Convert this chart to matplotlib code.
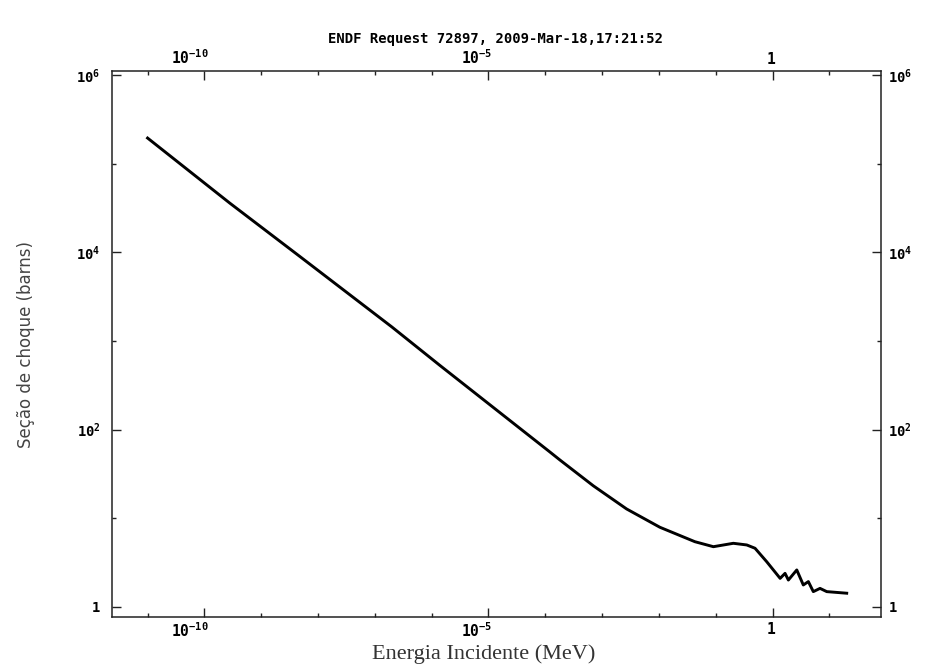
#!/usr/bin/env python3
import matplotlib
matplotlib.use('Agg')
import matplotlib.pyplot as plt
import matplotlib.ticker as mticker
import matplotlib.transforms as mtrans
import numpy as np

# values (energy in MeV, cross section in barns)
energy = [1.0e-11, 2.8e-10, 4.8e-9, 2.0e-7, 1.4e-6, 1.2e-4, 1.8e-4, 7.0e-4,
          2.7e-3, 1.04e-2, 4.3e-2, 9.1e-2, 0.204, 0.352, 0.492, 0.79, 1.36,
          1.66, 1.90, 2.67, 3.48, 4.27, 5.22, 6.85, 9.0, 20.2]
xsec = [1.96e5, 3.61e4, 9.0e3, 1.44e3, 530, 56.0, 45.5, 23.2,
        12.7, 7.89, 5.42, 4.76, 5.20, 4.98, 4.57, 3.22, 2.09,
        2.38, 2.00, 2.60, 1.76, 1.92, 1.48, 1.61, 1.48, 1.42]

x_major = [1e-10, 1e-5, 1.0]
x_major_labels = [r'$10^{-10}$', r'$10^{-5}$', r'$1$']
y_major = [1.0, 1e2, 1e4, 1e6]
y_major_labels = [r'$1$', r'$10^{2}$', r'$10^{4}$', r'$10^{6}$']

title = 'ENDF Request 72897, 2009-Mar-18,17:21:52'
xlabel = 'Energia Incidente (MeV)'
ylabel = 'Seção de choque (barns)'

plt.rcParams['mathtext.fontset'] = 'custom'
plt.rcParams['mathtext.rm'] = 'DejaVu Sans Mono:bold'
plt.rcParams['mathtext.bf'] = 'DejaVu Sans Mono:bold'
plt.rcParams['mathtext.it'] = 'DejaVu Sans Mono:bold'

fig = plt.figure(figsize=(9.25, 6.7), dpi=100)
ax = fig.add_axes([0.1208, 0.0791, 0.8316, 0.8149])

ax.plot(energy, xsec, color='black', lw=2.1, solid_joinstyle='round')

ax.set_xscale('log')
ax.set_yscale('log')
ax.set_xlim(2.34e-12, 81)
ax.set_ylim(0.765, 1.12e6)

ax.xaxis.set_major_locator(mticker.FixedLocator(x_major))
ax.xaxis.set_major_formatter(mticker.FixedFormatter(x_major_labels))
ax.xaxis.set_minor_locator(mticker.FixedLocator(10.0 ** np.arange(-11, 2)))
ax.xaxis.set_minor_formatter(mticker.NullFormatter())
ax.yaxis.set_major_locator(mticker.FixedLocator(y_major))
ax.yaxis.set_major_formatter(mticker.FixedFormatter(y_major_labels))
ax.yaxis.set_minor_locator(mticker.FixedLocator([1e1, 1e3, 1e5]))
ax.yaxis.set_minor_formatter(mticker.NullFormatter())

ax.tick_params(which='both', direction='in', top=True, right=True,
               labeltop=True, labelright=True, color='#222222', width=1.0)
ax.tick_params(which='major', length=6.5)
ax.tick_params(which='minor', length=3.2)
ax.tick_params(axis='x', which='major', pad=3, labelsize=10.5)
ax.tick_params(axis='y', which='major', pad=8, labelsize=10)

for s in ax.spines.values():
    s.set_color('#222222')
    s.set_linewidth(1.1)

# x tick labels in the original sit a bit left of their ticks
shift = mtrans.ScaledTranslation(4 / 100, 0, fig.dpi_scale_trans)
for tk in ax.xaxis.get_major_ticks():
    for lab in (tk.label1, tk.label2):
        lab.set_ha('right')
        lab.set_transform(lab.get_transform() + shift)
rshift = mtrans.ScaledTranslation(-4 / 100, 0, fig.dpi_scale_trans)
for tk in ax.yaxis.get_major_ticks():
    tk.label2.set_transform(tk.label2.get_transform() + rshift)

fig.text(0.536, 0.942, title, ha='center', va='center',
         family='DejaVu Sans Mono', weight='bold', fontsize=10)
ax.set_xlabel(xlabel, family='Liberation Serif', fontsize=16,
              color='#333333')
ax.xaxis.set_label_coords(0.484, -0.05)
ax.set_ylabel(ylabel, family='DejaVu Sans', fontsize=12,
              color='#444444', labelpad=30)

fig.savefig('out.png', dpi=100)
